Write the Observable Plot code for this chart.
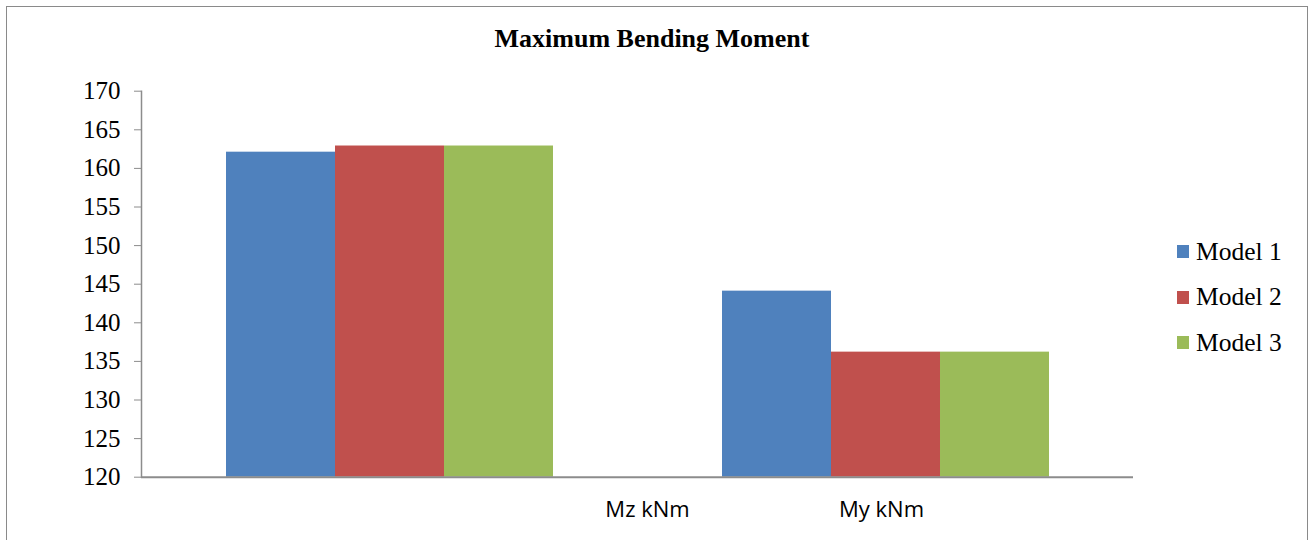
<!DOCTYPE html>
<html>
<head>
<meta charset="utf-8">
<script src="https://cdn.jsdelivr.net/npm/d3@7"></script>
<script src="https://cdn.jsdelivr.net/npm/@observablehq/plot@0.6"></script>
<style>
  html, body { margin: 0; padding: 0; background: #fff; }
  #wrap { position: relative; width: 1312px; height: 540px; overflow: hidden; background: #fff; }
  #border { position: absolute; left: 6px; top: 6px; width: 1302px; height: 580px; border: 1.5px solid #8a8a8a; box-sizing: border-box; pointer-events: none; }
  #title { position: absolute; left: 0; top: 24px; width: 1304px; text-align: center; font: bold 26px "Liberation Serif", "Times New Roman", serif; color: #000; }
  #chart { position: absolute; left: 0; top: 0; }
  #legend { position: absolute; left: 1177px; top: 229px; font: 25.5px "Liberation Serif", "Times New Roman", serif; color: #000; }
  .item { display: flex; align-items: center; height: 45.5px; }
  .sw { width: 12px; height: 13px; margin-right: 7px; }
</style>
</head>
<body>
<div id="wrap">
  <div id="chart"></div>
  <div id="title"></div>
  <div id="legend"></div>
  <div id="border"></div>
</div>
<script>
const titleText = "Maximum Bending Moment";
const categories = ["Mz kNm", "My kNm"];
const models = ["Model 1", "Model 2", "Model 3"];
const model1 = [162.1, 144.1];
const model2 = [162.9, 136.2];
const model3 = [162.9, 136.2];
const yTicks = [120, 125, 130, 135, 140, 145, 150, 155, 160, 165, 170];
const colors = ["#4F81BD", "#C0504D", "#9BBB59"];

const seriesValues = [model1, model2, model3];
const data = [];
categories.forEach((c, ci) => {
  models.forEach((m, mi) => {
    data.push({category: c, model: m, value: seriesValues[mi][ci]});
  });
});
const yMin = yTicks[0];
const yMax = yTicks[yTicks.length - 1];

const serif = "'Liberation Serif', 'Times New Roman', serif";
const sans = "'Open Sans', sans-serif";

const plot = Plot.plot({
  width: 1312,
  height: 540,
  marginLeft: 141,
  marginRight: 179,
  marginTop: 90.7,
  marginBottom: 63.3,
  style: {background: "transparent", overflow: "visible", fontFamily: serif},
  fx: {domain: categories, padding: 0, axis: null},
  x: {domain: models, paddingInner: 0, paddingOuter: 0.759, axis: null},
  y: {domain: [yMin, yMax], axis: null},
  color: {domain: models, range: colors},
  marks: [
    Plot.barY(data, {fx: "category", x: "model", y1: () => yMin, y2: "value", fill: "model"}),
    Plot.ruleY([yMin], {stroke: "#8c8c8c", strokeWidth: 2}),
    Plot.frame({anchor: "left", fx: () => categories[0], stroke: "#8c8c8c", strokeWidth: 1.5}),
    Plot.axisY({ticks: yTicks, tickSize: 7, tickPadding: 14, stroke: "#8c8c8c", strokeOpacity: 1, fill: "#000", fontSize: 25, fontFamily: serif, label: null, tickFormat: d => String(d)}),
    Plot.axisFx({anchor: "bottom", ticks: [categories[0]], tickSize: 0, tickPadding: 24, dx: 258, fontSize: 22, fontFamily: sans, fill: "#000", label: null}),
    Plot.axisFx({anchor: "bottom", ticks: [categories[1]], tickSize: 0, tickPadding: 24, dx: -4, fontSize: 22, fontFamily: sans, fill: "#000", label: null})
  ]
});
// font styling of axis labels
d3.select(plot).selectAll('g[aria-label="y-axis tick label"] text').style("font-family", serif);
d3.select(plot).selectAll('g[aria-label="y-axis tick label"]').style("font-family", serif);
d3.select(plot).selectAll('g[aria-label="fx-axis tick label"]').style("font-family", sans);
d3.select(plot).selectAll('g[aria-label="fx-axis tick label"] text').style("font-family", sans);
document.getElementById("chart").appendChild(plot);
document.getElementById("title").textContent = titleText;

const legend = document.getElementById("legend");
models.forEach((m, i) => {
  const item = document.createElement("div");
  item.className = "item";
  const sw = document.createElement("span");
  sw.className = "sw";
  sw.style.background = colors[i];
  const t = document.createElement("span");
  t.textContent = m;
  item.appendChild(sw);
  item.appendChild(t);
  legend.appendChild(item);
});
</script>
</body>
</html>
